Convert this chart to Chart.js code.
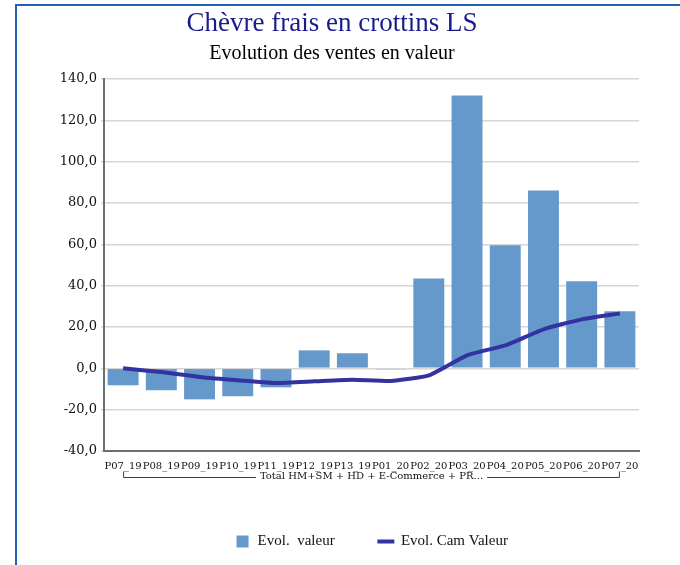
<!DOCTYPE html>
<html>
<head>
<meta charset="utf-8">
<script src="https://cdn.jsdelivr.net/npm/chart.js@4"></script>
<style>
  html, body { margin: 0; padding: 0; background: #fff; }
</style>
</head>
<body>
<canvas id="Graphic_v" width="680" height="565"></canvas>
<script>
// data
var periodes = ['P07_19','P08_19','P09_19','P10_19','P11_19','P12_19','P13_19',
                'P01_20','P02_20','P03_20','P04_20','P05_20','P06_20','P07_20'];
var evolValeur = [-8.2, -10.6, -15.0, -13.5, -9.2, 8.7, 7.3, -0.5, 43.5, 132.0, 59.5, 86.1, 42.1, 27.6];
var evolCamValeur = [0.0, -1.8, -4.2, -5.8, -7.1, -6.3, -5.5, -6.1, -3.4, 6.3, 11.1, 18.9, 23.7, 26.6];
var groupe = 'Total HM+SM + HD + E-Commerce + PR...';

// blue frame at the left and top of the picture
var cadre = {
  id: 'cadre',
  beforeDraw: function (chart) {
    var ctx = chart.ctx;
    ctx.save();
    ctx.fillStyle = '#ffffff';
    ctx.fillRect(0, 0, chart.width, chart.height);
    ctx.fillStyle = '#1f63b4';
    ctx.fillRect(15, 4, chart.width - 15, 2);
    ctx.fillRect(15, 4, 2, chart.height - 4);
    ctx.restore();
  }
};

// group label with its bracket under the period labels
var accolade = {
  id: 'accolade',
  afterDraw: function (chart) {
    var ctx = chart.ctx;
    var x = chart.scales.x;
    var x0 = x.getPixelForValue(0);
    var x1 = x.getPixelForValue(periodes.length - 1);
    var y = chart.chartArea.bottom + 26.5;
    ctx.save();
    ctx.font = '10px "DejaVu Serif"';
    var tw = ctx.measureText(groupe).width;
    var cx = (x0 + x1) / 2;
    ctx.strokeStyle = '#404040';
    ctx.lineWidth = 1;
    ctx.beginPath();
    ctx.moveTo(x0 + 0.5, y - 6);
    ctx.lineTo(x0 + 0.5, y);
    ctx.lineTo(cx - tw / 2 - 4, y);
    ctx.moveTo(cx + tw / 2 + 4, y);
    ctx.lineTo(x1 - 0.5, y);
    ctx.lineTo(x1 - 0.5, y - 6);
    ctx.stroke();
    ctx.fillStyle = '#111111';
    ctx.textAlign = 'center';
    ctx.textBaseline = 'middle';
    ctx.fillText(groupe, cx, y - 1);
    ctx.restore();
  }
};

var ctxV = document.getElementById('Graphic_v').getContext('2d');
var graphique = new Chart(ctxV, {
  data: {
    labels: periodes,
    datasets: [{
      type: 'line',
      label: 'Evol. Cam Valeur',
      data: evolCamValeur,
      borderColor: '#3232a0',
      backgroundColor: '#3232a0',
      borderWidth: 4,
      pointRadius: 0,
      pointStyle: 'line',
      tension: 0.15,
      order: 0
    }, {
      type: 'bar',
      label: 'Evol.  valeur',
      data: evolValeur,
      backgroundColor: '#6699cb',
      pointStyle: 'rect',
      barPercentage: 0.81,
      categoryPercentage: 1,
      order: 1
    }]
  },
  options: {
    responsive: false,
    animation: false,
    layout: { padding: { left: 25, right: 41, top: 8, bottom: 6 } },
    plugins: {
      title: {
        display: true,
        text: 'Chèvre frais en crottins LS',
        color: '#1a1a8c',
        font: { family: '"Liberation Serif"', size: 27, weight: 'normal' },
        padding: { top: 0, bottom: 0 }
      },
      subtitle: {
        display: true,
        text: 'Evolution des ventes en valeur',
        color: '#000000',
        font: { family: '"Liberation Serif"', size: 20, weight: 'normal' },
        padding: { top: 1.6, bottom: 13 }
      },
      legend: {
        position: 'bottom',
        fullSize: false,
        reverse: true,
        labels: {
          usePointStyle: true,
          boxHeight: 12,
          padding: 10,
          color: '#111111',
          font: { family: '"Liberation Serif"', size: 15 },
          generateLabels: function (chart) {
            var items = Chart.defaults.plugins.legend.labels.generateLabels(chart);
            items.forEach(function (it) {
              if (it.datasetIndex === 1) it.text = it.text + '         ';
            });
            return items;
          }
        }
      },
      tooltip: { enabled: false }
    },
    scales: {
      x: {
        grid: { display: false, drawTicks: false },
        border: { display: true, color: '#6e6e6e', width: 2 },
        ticks: {
          autoSkip: false,
          maxRotation: 0,
          padding: 9,
          color: '#111111',
          font: { family: '"DejaVu Serif"', size: 10 }
        },
        afterFit: function (scale) { scale.height = 73; }
      },
      y: {
        min: -40,
        max: 140,
        ticks: {
          stepSize: 20,
          padding: 4,
          color: '#111111',
          font: { family: '"DejaVu Serif"', size: 13 },
          callback: function (v) { return v.toFixed(1).replace('.', ','); }
        },
        grid: { color: '#d6d6d6', lineWidth: 1.5, tickLength: 3 },
        border: { display: true, color: '#6e6e6e', width: 2 },
        afterFit: function (scale) { scale.width = 79; }
      }
    }
  },
  plugins: [cadre, accolade]
});
</script>
</body>
</html>
